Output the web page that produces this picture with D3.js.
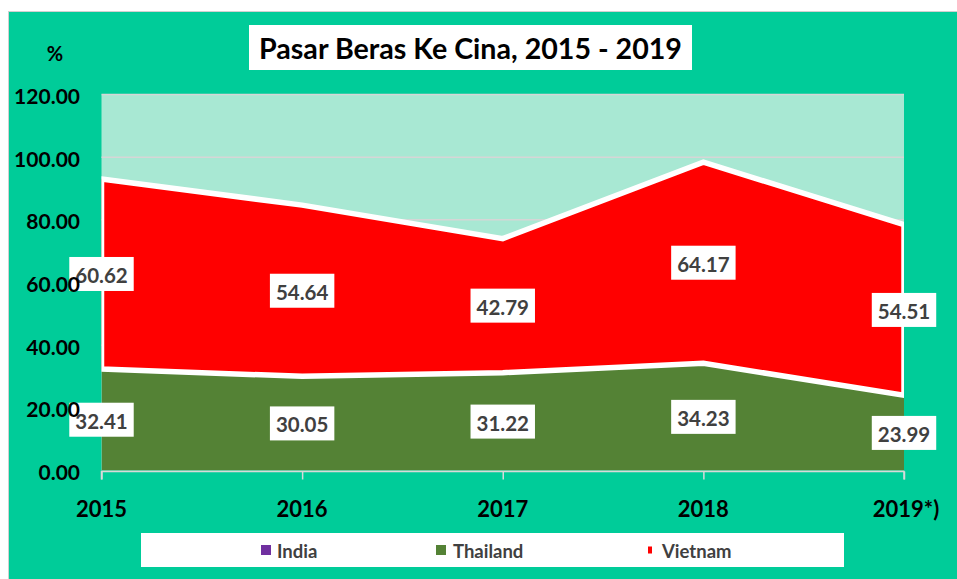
<!DOCTYPE html>
<html>
<head>
<meta charset="utf-8">
<script src="https://cdn.jsdelivr.net/npm/d3@7"></script>
<style>
  html, body { margin: 0; padding: 0; background: #ffffff; }
  svg { display: block; }
  text { font-family: Lato, "Open Sans", "DejaVu Sans", sans-serif; }
</style>
</head>
<body>
<svg id="chart" width="957" height="579"></svg>
<script>
// ---- Data ----
const years = ["2015", "2016", "2017", "2018", "2019*)"];
const india = [0, 0, 0, 0, 0];
const thailand = [32.41, 30.05, 31.22, 34.23, 23.99];
const vietnam = [60.62, 54.64, 42.79, 64.17, 54.51];
const yTicks = [0, 20, 40, 60, 80, 100, 120];
const seriesNames = ["India", "Thailand", "Vietnam"];
const seriesColors = ["#7030A0", "#548235", "#FF0000"];
const title = "Pasar Beras Ke Cina, 2015 - 2019";
const yUnit = "%";

// ---- Layout ----
const W = 957, H = 579;
const svg = d3.select("#chart");
const plot = { left: 101.5, right: 904, top: 94.5, bottom: 470.5 };

// Outer chart area
svg.append("rect").attr("x", 8.5).attr("y", 11.5).attr("width", W).attr("height", H)
  .attr("fill", "#00CC99").attr("stroke", "#D0D0D0").attr("stroke-width", 1);

const x = d3.scalePoint().domain(years).range([plot.left, plot.right]).padding(0);
const y = d3.scaleLinear().domain([0, 120]).range([plot.bottom, plot.top]);

// Plot area background
svg.append("rect").attr("x", plot.left).attr("y", plot.top)
  .attr("width", plot.right - plot.left).attr("height", plot.bottom - plot.top)
  .attr("fill", "#A8E8D3");

// Gridlines
svg.append("g").selectAll("line").data(yTicks.filter(d => d > 0)).join("line")
  .attr("x1", plot.left).attr("x2", plot.right)
  .attr("y1", d => y(d)).attr("y2", d => y(d))
  .attr("stroke", "#D6D6D6").attr("stroke-width", 1.5);

// Stack
const rows = years.map((yr, i) => ({ year: yr, Thailand: thailand[i], Vietnam: vietnam[i], India: india[i] }));
const stack = d3.stack().keys(["Thailand", "Vietnam", "India"]);
const stacked = stack(rows);

svg.append("defs").append("clipPath").attr("id", "plotClip")
  .append("rect").attr("x", plot.left).attr("y", plot.top - 10)
  .attr("width", plot.right - plot.left).attr("height", plot.bottom - plot.top + 10);

const area = d3.area()
  .x(d => x(d.data.year))
  .y0(d => y(d[0]))
  .y1(d => y(d[1]));

const gAreas = svg.append("g").attr("clip-path", "url(#plotClip)");
const colorOf = { India: seriesColors[0], Thailand: seriesColors[1], Vietnam: seriesColors[2] };
stacked.forEach(s => {
  gAreas.append("path").datum(s)
    .attr("d", area)
    .attr("fill", colorOf[s.key])
    .attr("stroke", s.key === "Vietnam" ? "#FFFFFF" : "none")
    .attr("stroke-width", 5.5)
    .attr("stroke-linejoin", "miter");
});

// X axis line & ticks
const xAxis = d3.axisBottom(x).tickSize(8).tickFormat("");
const gx = svg.append("g").attr("transform", `translate(0,${plot.bottom + 1})`).call(xAxis);
gx.selectAll("path, line").attr("stroke", "#D9D9D9").attr("stroke-width", 1.5);
gx.select(".domain").attr("d", `M${plot.left},8V0H${plot.right}V8`);

// X labels
svg.append("g").selectAll("text").data(years).join("text")
  .attr("x", d => x(d) + (d === years[years.length - 1] ? 2 : 0))
  .attr("y", 508)
  .attr("text-anchor", "middle").attr("dominant-baseline", "central")
  .attr("font-size", 22).attr("font-weight", "bold").attr("fill", "#000")
  .text(d => d);

// Data labels
function addLabel(cx, cy, txt) {
  const g = svg.append("g");
  const t = g.append("text").attr("x", cx).attr("y", cy + 1)
    .attr("text-anchor", "middle").attr("dominant-baseline", "central")
    .attr("font-size", 20.5).attr("font-weight", "bold").attr("fill", "#404040")
    .text(txt);
  const w = t.node().getComputedTextLength() + 12;
  g.insert("rect", "text").attr("x", cx - w / 2).attr("y", cy - 17)
    .attr("width", w).attr("height", 34).attr("fill", "#FFFFFF");
}
years.forEach((yr, i) => {
  addLabel(x(yr), y(thailand[i] / 2), d3.format(".2f")(thailand[i]));
  addLabel(x(yr), y(thailand[i] + vietnam[i] / 2), d3.format(".2f")(vietnam[i]));
});

// Y labels (drawn above data labels, as in the reference)
svg.append("g").selectAll("text").data(yTicks).join("text")
  .attr("x", 80).attr("y", d => y(d) + 1)
  .attr("text-anchor", "end").attr("dominant-baseline", "central")
  .attr("font-size", 21).attr("font-weight", "bold").attr("fill", "#000")
  .text(d => d3.format(".2f")(d));

svg.append("text").attr("x", 55).attr("y", 53)
  .attr("text-anchor", "middle").attr("dominant-baseline", "central")
  .attr("font-size", 20).attr("font-weight", "bold").attr("fill", "#000")
  .text(yUnit);

// Title
const tg = svg.append("g");
tg.append("rect").attr("x", 249).attr("y", 25).attr("width", 443).attr("height", 45).attr("fill", "#FFFFFF");
const tt = tg.append("text").attr("x", 470.5).attr("y", 48)
  .attr("text-anchor", "middle").attr("dominant-baseline", "central")
  .attr("font-size", 27).attr("font-weight", "bold").attr("fill", "#000")
  .text(title);
const tw = tt.node().getComputedTextLength();
tt.attr("font-size", 27 * 423 / tw);

// Legend
svg.append("rect").attr("x", 141).attr("y", 533).attr("width", 703).attr("height", 34).attr("fill", "#FFFFFF");
const legendX = [261, 436, 648];
const markerW = [10, 10, 4];
const markerH = [10, 10, 7];
const textX = [277, 453, 662];
seriesNames.forEach((n, i) => {
  svg.append("rect").attr("x", legendX[i]).attr("y", 550 - markerH[i] / 2)
    .attr("width", markerW[i]).attr("height", markerH[i]).attr("fill", seriesColors[i]);
  svg.append("text").attr("x", textX[i]).attr("y", 551)
    .attr("dominant-baseline", "central")
    .attr("font-size", 18.5).attr("font-weight", "bold").attr("fill", "#404040")
    .text(n);
});
</script>
</body>
</html>
